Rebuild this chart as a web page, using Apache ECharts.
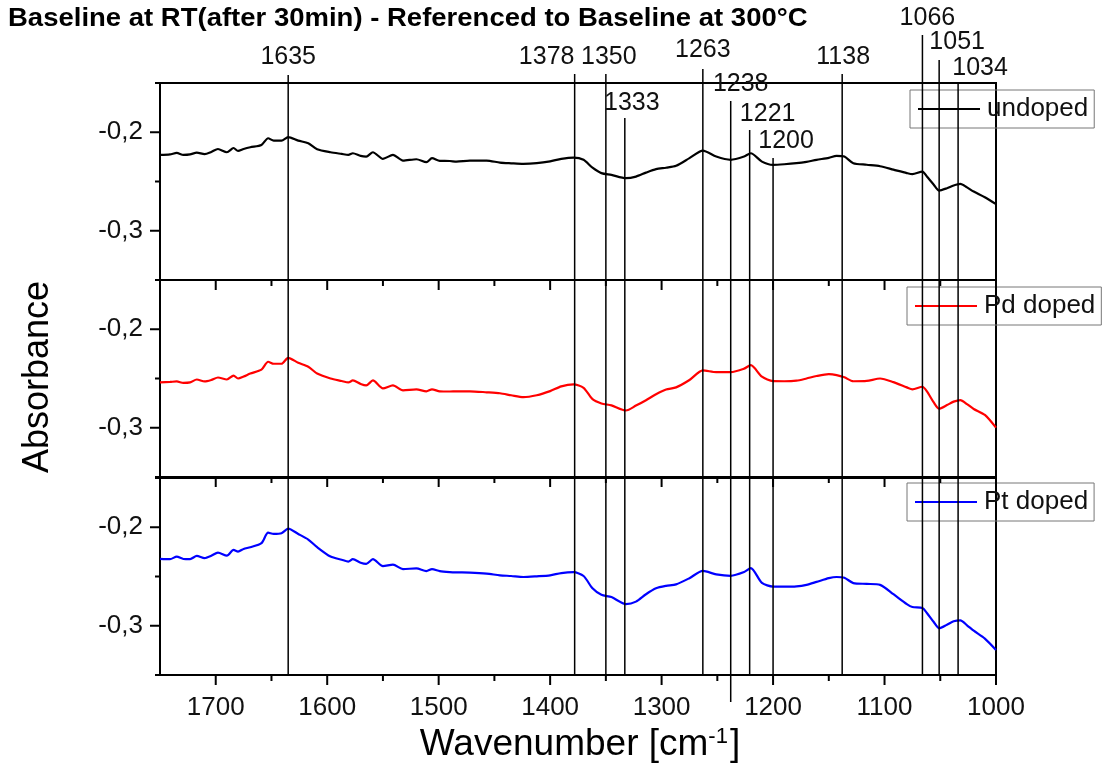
<!DOCTYPE html>
<html>
<head>
<meta charset="utf-8">
<script src="https://cdn.jsdelivr.net/npm/echarts@6/dist/echarts.min.js"></script>
<style>
  html, body { margin: 0; padding: 0; background: #fff; }
  #chart { width: 1102px; height: 769px; }
</style>
</head>
<body>
<div id="chart"></div>
<script>
// Wavenumber sampling shared by the three spectra (cm^-1)
const wavenumbers = [1750, 1741, 1735, 1729, 1723, 1717, 1710, 1704, 1698, 1690, 1684, 1680, 1675, 1669, 1659, 1653, 1648, 1641, 1635, 1626, 1617, 1609, 1597, 1587, 1581, 1577, 1570, 1565, 1559, 1550, 1541, 1532, 1520, 1511, 1506, 1499, 1490, 1484, 1472, 1457, 1445, 1435, 1424, 1412, 1400, 1390, 1379, 1370, 1362, 1354, 1345, 1332, 1323, 1314, 1305, 1296, 1287, 1275, 1263, 1251, 1238, 1226, 1220, 1210, 1200, 1190, 1179, 1170, 1161, 1150, 1143, 1136, 1128, 1116, 1104, 1092, 1080, 1075, 1066, 1062, 1056, 1051, 1044, 1038, 1032, 1026, 1020, 1010, 1000];

// Absorbance, undoped sample
const undoped = [-0.223, -0.2225, -0.221, -0.223, -0.2225, -0.2207, -0.2223, -0.220, -0.217, -0.2203, -0.216, -0.219, -0.217, -0.2152, -0.2129, -0.2061, -0.2085, -0.2085, -0.205, -0.2085, -0.2111, -0.2172, -0.2203, -0.222, -0.2230, -0.2213, -0.224, -0.2247, -0.2203, -0.227, -0.223, -0.2288, -0.2274, -0.2304, -0.2263, -0.2291, -0.2292, -0.2298, -0.2288, -0.2288, -0.2308, -0.2315, -0.2321, -0.2314, -0.2295, -0.227, -0.2257, -0.228, -0.236, -0.2415, -0.2433, -0.2466, -0.245, -0.241, -0.2375, -0.236, -0.2341, -0.2263, -0.2186, -0.2247, -0.228, -0.2247, -0.2213, -0.2298, -0.2331, -0.2325, -0.2314, -0.230, -0.228, -0.226, -0.224, -0.2247, -0.2314, -0.233, -0.2345, -0.238, -0.2415, -0.2426, -0.2399, -0.245, -0.253, -0.2592, -0.2568, -0.254, -0.2524, -0.256, -0.2602, -0.266, -0.273];

// Absorbance, Pd doped sample
const pdDoped = [-0.254, -0.2535, -0.253, -0.2545, -0.254, -0.251, -0.253, -0.2515, -0.249, -0.251, -0.247, -0.250, -0.248, -0.245, -0.241, -0.233, -0.235, -0.235, -0.229, -0.234, -0.238, -0.245, -0.250, -0.2525, -0.254, -0.252, -0.2555, -0.257, -0.252, -0.260, -0.257, -0.262, -0.261, -0.263, -0.261, -0.263, -0.2632, -0.263, -0.263, -0.264, -0.265, -0.267, -0.269, -0.267, -0.2628, -0.258, -0.256, -0.2594, -0.271, -0.2753, -0.2773, -0.2825, -0.2775, -0.272, -0.266, -0.2612, -0.259, -0.2515, -0.2418, -0.2435, -0.2435, -0.240, -0.2365, -0.2482, -0.2527, -0.2528, -0.2522, -0.250, -0.2475, -0.2456, -0.2465, -0.2488, -0.2528, -0.2525, -0.250, -0.2537, -0.259, -0.261, -0.2584, -0.263, -0.274, -0.2807, -0.277, -0.2735, -0.2719, -0.276, -0.281, -0.287, -0.2999];

// Absorbance, Pt doped sample
const ptDoped = [-0.2321, -0.2324, -0.2298, -0.2322, -0.2324, -0.2291, -0.2314, -0.229, -0.2257, -0.2288, -0.223, -0.2247, -0.222, -0.2203, -0.2162, -0.2055, -0.2068, -0.2061, -0.2014, -0.2068, -0.2125, -0.2203, -0.2298, -0.233, -0.2348, -0.2324, -0.236, -0.2372, -0.2324, -0.2395, -0.238, -0.2425, -0.2418, -0.2445, -0.2425, -0.2445, -0.2455, -0.2458, -0.246, -0.247, -0.2488, -0.2495, -0.2505, -0.2498, -0.2488, -0.2465, -0.2456, -0.2495, -0.262, -0.2686, -0.2709, -0.278, -0.2755, -0.268, -0.262, -0.2595, -0.258, -0.2517, -0.2443, -0.2478, -0.2493, -0.2455, -0.2415, -0.2565, -0.2602, -0.2603, -0.2600, -0.2585, -0.2555, -0.2517, -0.2505, -0.2513, -0.2567, -0.2575, -0.2585, -0.268, -0.278, -0.281, -0.282, -0.287, -0.296, -0.3026, -0.299, -0.2955, -0.2945, -0.2995, -0.305, -0.313, -0.3245];

// Band positions marked across all panels (cm^-1)
const peaks = [1635, 1378, 1350, 1333, 1263, 1238, 1221, 1200, 1138, 1066, 1051, 1034];

const seriesNames = ['undoped', 'Pd doped', 'Pt doped'];
const xMajorValues = [1000, 1100, 1200, 1300, 1400, 1500, 1600, 1700];
const xMinorValues = [1050, 1150, 1250, 1350, 1450, 1550, 1650];
const yMajorValues = [-0.3, -0.2];
const yMinorValues = [-0.35, -0.25, -0.15];

const FONT = '"Liberation Sans", Arial, sans-serif';
const colors = ['#000000', '#ff0000', '#0000ff'];
const spectra = [undoped, pdDoped, ptDoped];
const gridTops = [83, 280, 478];
const gridH = 197;

// label placement for each band marker: label centre y, line top y, label x shift, line bottom extension
const peakLayout = {
  1635: { ty: 57, top: 75, dx: 0 },
  1378: { ty: 57, top: 74, dx: -28 },
  1350: { ty: 57, top: 74, dx: 3 },
  1333: { ty: 103, top: 118, dx: 7 },
  1263: { ty: 50, top: 69, dx: 0 },
  1238: { ty: 84, top: 101, dx: 10, ext: 27 },
  1221: { ty: 114, top: 130, dx: 18 },
  1200: { ty: 141, top: 158, dx: 13 },
  1138: { ty: 57, top: 74, dx: 1 },
  1066: { ty: 18, top: 35, dx: 5 },
  1051: { ty: 42, top: 60, dx: 18 },
  1034: { ty: 68, top: 82, dx: 22 }
};

const grids = gridTops.map(t => ({
  left: 160, right: 106, top: t, height: gridH,
  show: true, borderColor: '#000', borderWidth: 2
}));

const axisLineStyle = () => ({ color: '#000', width: 2 });
const xAxis = gridTops.map((_, i) => ({
  type: 'value', gridIndex: i, min: 1000, max: 1750, interval: 50, inverse: true, position: 'bottom',
  axisLine: { onZero: false, lineStyle: axisLineStyle() },
  axisTick: { show: false },
  axisLabel: {
    show: i === 2, color: '#111', fontSize: 26, fontFamily: FONT, margin: 20,
    formatter: v => (v % 100 === 0 && v < 1750 ? String(v) : '')
  },
  splitLine: { show: false }
}));
const yAxis = gridTops.map((_, i) => ({
  type: 'value', gridIndex: i, min: -0.35, max: -0.15, interval: 0.05, position: 'left',
  axisLine: { onZero: false, lineStyle: axisLineStyle() },
  axisTick: { show: false },
  axisLabel: {
    color: '#111', fontSize: 26, fontFamily: FONT, margin: 17,
    formatter: v => (Math.round(v * 100) % 10 === 0 ? v.toFixed(1).replace('.', ',') : '')
  },
  splitLine: { show: false }
}));

const series = spectra.map((vals, i) => ({
  name: seriesNames[i], type: 'line', xAxisIndex: i, yAxisIndex: i,
  data: wavenumbers.map((w, k) => [w, vals[k]]),
  showSymbol: false, smooth: 0.25, z: 3,
  lineStyle: { color: colors[i], width: 2.2 }, itemStyle: { color: colors[i] }
}));

const legendTops = [90, 287, 483];
const legend = seriesNames.map((n, i) => ({
  data: [n], left: i === 0 ? 910 : 907, top: legendTops[i], orient: 'horizontal',
  icon: 'rect', itemWidth: 62, itemHeight: 2,
  borderColor: '#777', borderWidth: 1, padding: [6, 6, 6, 8],
  textStyle: { fontSize: 26, fontFamily: FONT, color: '#111', padding: [0, 0, 0, 2] }
}));

const chart = echarts.init(document.getElementById('chart'), null, { renderer: 'canvas' });
chart.setOption({
  animation: false,
  backgroundColor: '#fff',
  legend, grid: grids, xAxis, yAxis, series
});

const graphics = [];
function segment(x1, y1, x2, y2, w) {
  graphics.push({
    type: 'line', z: 10, silent: true,
    shape: { x1, y1, x2, y2 }, style: { stroke: '#000', lineWidth: w }
  });
}

// outward tick marks of every panel, positioned by each panel's axes
gridTops.forEach((_, i) => {
  const axisY = chart.convertToPixel({ yAxisIndex: i }, -0.35);
  const axisX = chart.convertToPixel({ xAxisIndex: i }, 1750);
  xMajorValues.forEach(v => { const x = chart.convertToPixel({ xAxisIndex: i }, v); segment(x, axisY, x, axisY + 10, 2); });
  xMinorValues.forEach(v => { const x = chart.convertToPixel({ xAxisIndex: i }, v); segment(x, axisY, x, axisY + 6, 2); });
  yMajorValues.forEach(v => { const y = chart.convertToPixel({ yAxisIndex: i }, v); segment(axisX - 10, y, axisX, y, 2); });
  yMinorValues.forEach(v => { const y = chart.convertToPixel({ yAxisIndex: i }, v); segment(axisX - 5, y, axisX, y, 2); });
});

// band markers with their labels
const bottomY = chart.convertToPixel({ yAxisIndex: 2 }, -0.35);
peaks.forEach(p => {
  const L = peakLayout[p];
  const x = chart.convertToPixel({ xAxisIndex: 0 }, p);
  segment(x, L.top, x, bottomY + (L.ext || 0), 1.5);
  graphics.push({
    type: 'text', z: 10, silent: true, x: x + L.dx, y: L.ty,
    style: { text: String(p), font: '25px ' + FONT, fill: '#111', align: 'center', verticalAlign: 'middle' }
  });
});

// title and axis titles
graphics.push({
  type: 'text', z: 10, x: 8, y: 19, scaleX: 1.1,
  style: {
    text: 'Baseline at RT(after 30min) - Referenced to Baseline at 300°C',
    font: 'bold 25px ' + FONT, fill: '#000', align: 'left', verticalAlign: 'middle'
  }
});
graphics.push({
  type: 'text', z: 10, x: 580, y: 745,
  style: {
    text: 'Wavenumber [cm{sup|-1}]', font: '37px ' + FONT, fill: '#000', align: 'center', verticalAlign: 'middle',
    rich: { sup: { fontSize: 22, fontFamily: FONT, verticalAlign: 'top', padding: [0, 2, 16, 0] } }
  }
});
graphics.push({
  type: 'text', z: 10, x: 38, y: 377, rotation: Math.PI / 2,
  style: { text: 'Absorbance', font: '36px ' + FONT, fill: '#000', align: 'center', verticalAlign: 'middle' }
});
chart.setOption({ graphic: graphics });
</script>
</body>
</html>
